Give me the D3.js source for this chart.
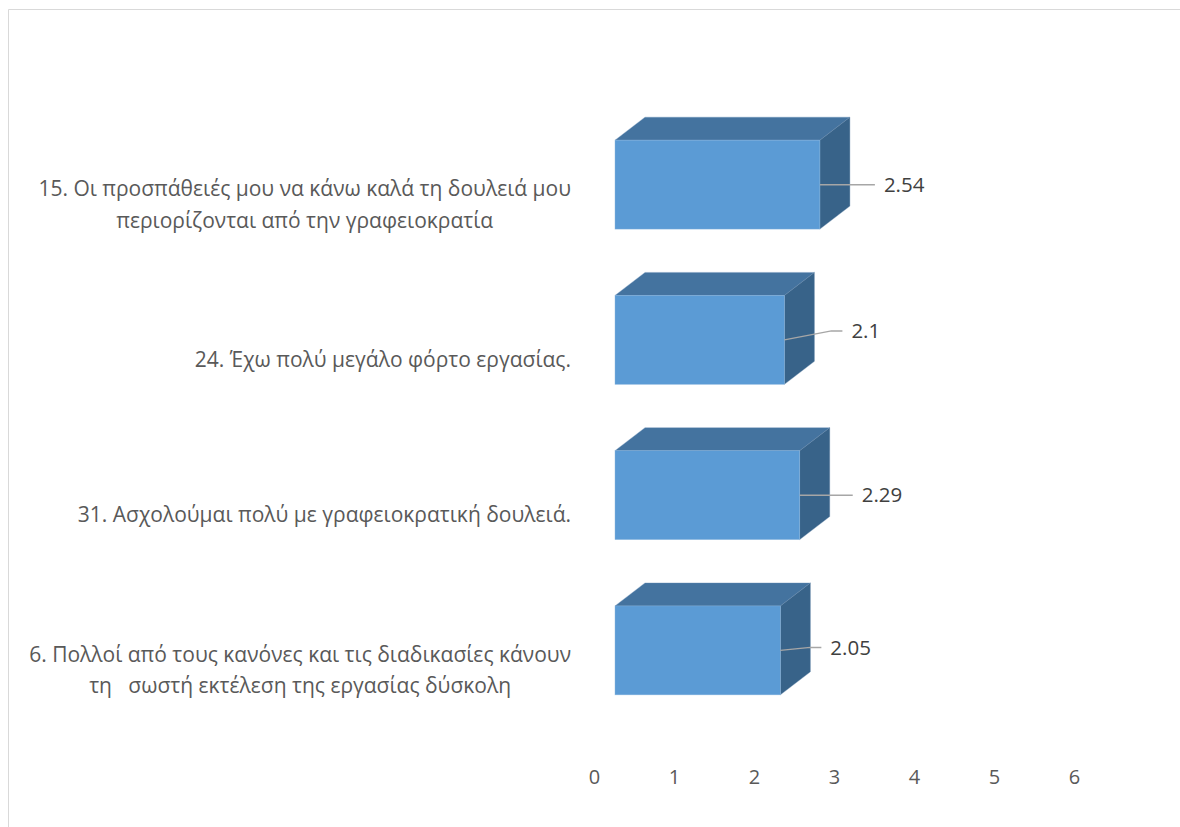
<!DOCTYPE html>
<html>
<head>
<meta charset="utf-8">
<script src="https://cdn.jsdelivr.net/npm/d3@7"></script>
<style>
  html, body { margin: 0; padding: 0; background: #fff; }
  svg { display: block; font-family: "Open Sans", "Noto Sans", sans-serif; }
</style>
</head>
<body>
<svg id="chart" width="1180" height="827"></svg>
<script>
// Survey items (top to bottom) and their mean scores
const categories = [
  ["15. Οι προσπάθειές μου να κάνω καλά τη δουλειά μου", "περιορίζονται από την γραφειοκρατία"],
  ["24. Έχω πολύ μεγάλο φόρτο εργασίας."],
  ["31. Ασχολούμαι πολύ με γραφειοκρατική δουλειά."],
  ["6. Πολλοί από τους κανόνες και τις διαδικασίες κάνουν", "τη   σωστή εκτέλεση της εργασίας δύσκολη"]
];
const values = [2.54, 2.1, 2.29, 2.05];
const tickValues = [0, 1, 2, 3, 4, 5, 6];

// Per-label nudges for the data-label leader lines [dx, dy]
const labelNudge = [[34, 0], [37, -9], [32, 0], [20, -3]];

const svg = d3.select("#chart");
const W = 1180, H = 827;

// Chart frame
svg.append("path")
  .attr("d", `M8.5,${H} V9.5 H${W}`)
  .attr("fill", "none")
  .attr("stroke", "#d9d9d9")
  .attr("stroke-width", 1);

// 3D depth offset of each bar
const depth = { dx: 30, dy: -23 };

const x = d3.scaleLinear().domain([0, 6]).range([615, 1099]);
const xFloor = d3.scaleLinear().domain([0, 6]).range([594, 1074]);
const y = d3.scaleBand()
  .domain(d3.range(categories.length))
  .range([107, 728])
  .paddingInner(0.427)
  .paddingOuter(0.2135);

const colors = { front: "#5b9bd5", top: "#44739f", side: "#386389" };

const bars = svg.append("g").selectAll("g")
  .data(values.map((v, i) => ({ v, i })))
  .join("g");

bars.each(function(d) {
  const g = d3.select(this);
  const x0 = x(0), x1 = x(d.v);
  const y0 = y(d.i), y1 = y(d.i) + y.bandwidth();
  // top face
  g.append("path")
    .attr("d", `M${x0},${y0} L${x0 + depth.dx},${y0 + depth.dy} L${x1 + depth.dx},${y0 + depth.dy} L${x1},${y0} Z`)
    .attr("fill", colors.top)
    .attr("stroke", "#6f95bb").attr("stroke-width", 0.6).attr("stroke-opacity", 0.6);
  // side face
  g.append("path")
    .attr("d", `M${x1},${y0} L${x1 + depth.dx},${y0 + depth.dy} L${x1 + depth.dx},${y1 + depth.dy} L${x1},${y1} Z`)
    .attr("fill", colors.side)
    .attr("stroke", "#5e83a8").attr("stroke-width", 0.6).attr("stroke-opacity", 0.6);
  // front face
  g.append("rect")
    .attr("x", x0).attr("y", y0)
    .attr("width", x1 - x0).attr("height", y1 - y0)
    .attr("fill", colors.front)
    .attr("stroke", "#8db6de").attr("stroke-width", 0.6).attr("stroke-opacity", 0.7);

  // data label with leader line
  const cy = (y0 + y1) / 2;
  const [ndx, ndy] = labelNudge[d.i];
  const lx = x1 + depth.dx + ndx;
  const ly = cy + ndy;
  g.append("path")
    .attr("d", `M${x1},${cy} L${lx - 20},${ly} L${lx - 9},${ly}`)
    .attr("fill", "none")
    .attr("stroke", "#a6a6a6")
    .attr("stroke-width", 1.5);
  g.append("text")
    .attr("x", lx).attr("y", ly)
    .attr("dy", "0.35em")
    .attr("font-size", 20.5)
    .attr("fill", "#404040")
    .text(String(d.v));
});

// Category labels: right-aligned block, lines centred within it
const labelRight = 571;
const catG = svg.append("g");
categories.forEach((lines, i) => {
  const cy = y(i) + y.bandwidth() / 2 + 20;
  const t = catG.append("text")
    .attr("font-size", 21)
    .attr("fill", "#595959")
    .attr("text-anchor", "middle")
    .attr("xml:space", "preserve")
    .style("white-space", "pre");
  const lh = 31.5;
  const startY = cy - (lines.length - 1) * lh / 2;
  const spans = lines.map((s, k) =>
    t.append("tspan").attr("y", startY + k * lh).attr("dy", "0.35em").text(s));
  const maxW = d3.max(spans, s => s.node().getComputedTextLength());
  const cx = labelRight - maxW / 2;
  spans.forEach(s => s.attr("x", cx));
});

// Value axis labels (no line, no gridlines)
const axis = d3.axisBottom(xFloor).tickValues(tickValues).tickFormat(d3.format("d"))
  .tickSize(0).tickPadding(0);
const axG = svg.append("g").attr("transform", "translate(0,770)").call(axis);
axG.select(".domain").remove();
axG.selectAll("text")
  .attr("font-size", 20)
  .attr("font-family", "\"Open Sans\", \"Noto Sans\", sans-serif")
  .attr("fill", "#595959");
</script>
</body>
</html>
